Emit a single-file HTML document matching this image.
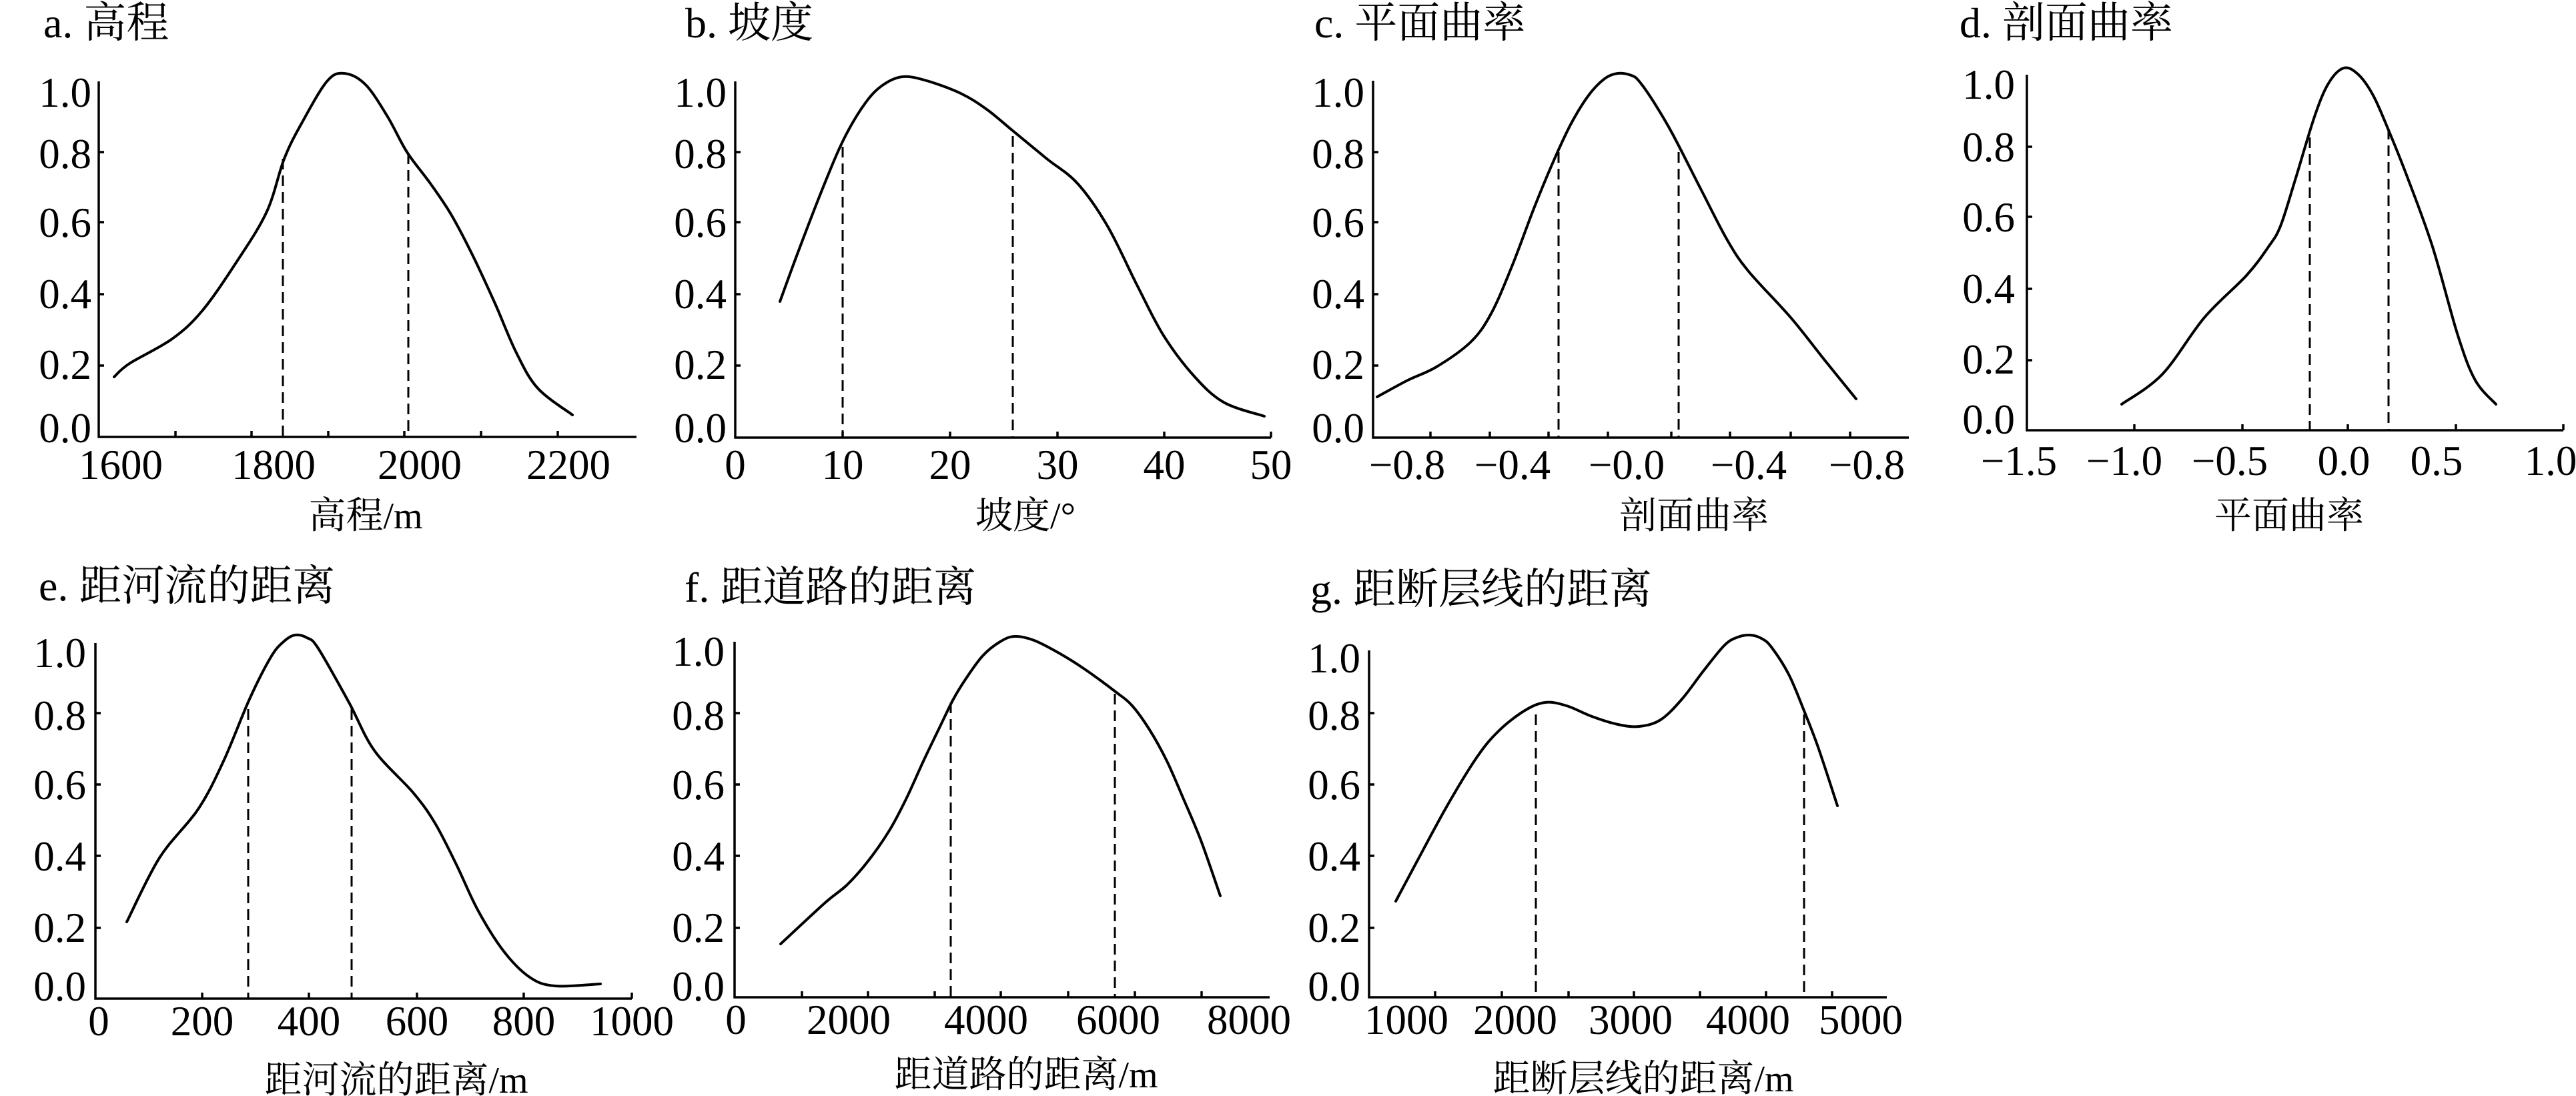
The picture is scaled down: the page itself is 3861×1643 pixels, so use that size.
<!DOCTYPE html>
<html><head><meta charset="utf-8"><style>
html,body{margin:0;padding:0;background:#fff;}
svg{display:block;}
text{font-family:"Liberation Serif","Noto Serif CJK SC",serif;fill:#000;}
.t{font-size:64px;}
.x{font-size:56px;}
.n{font-size:63px;}
.c{fill:none;stroke:#000;stroke-width:4;stroke-linejoin:round;stroke-linecap:round;}
.a{fill:none;stroke:#000;stroke-width:3.5;}
.d{fill:none;stroke:#000;stroke-width:3;stroke-dasharray:16,9;}
</style></head><body>
<svg id="s" width="3861" height="1643" viewBox="0 0 3861 1643" xmlns="http://www.w3.org/2000/svg">
<!-- a -->
<text class="t" x="65" y="56">a. 高程</text>
<path class="a" d="M148,122 V655 H954"/>
<path class="a" d="M148,228h8M148,333h8M148,441h8M148,548h8M263,655v-9M377,655v-9M492,655v-9M606,655v-9M721,655v-9M836,655v-9"/>
<g class="n" text-anchor="end"><text x="137" y="160">1.0</text><text x="137" y="252">0.8</text><text x="137" y="355">0.6</text><text x="137" y="462">0.4</text><text x="137" y="568">0.2</text><text x="137" y="663">0.0</text></g>
<g class="n" text-anchor="middle"><text x="181" y="718">1600</text><text x="410" y="718">1800</text><text x="629" y="718">2000</text><text x="852" y="718">2200</text></g>
<text class="x" x="548" y="792" text-anchor="middle">高程/m</text>
<polyline class="c" points="171,565 194,545 258,508 303,466 355,392 400,317 426,238 452,185 490,122 516,110 548,127 581,175 610,228 645,275 677,323 710,386 742,455 774,529 806,582 858,622"/>
<path class="d" d="M424,238V655M612,230V655"/>
<!-- b -->
<text class="t" x="1027" y="56">b. 坡度</text>
<path class="a" d="M1102,122 V656 H1905"/>
<path class="a" d="M1102,228h8M1102,333h8M1102,441h8M1102,548h8M1263,656v-9M1424,656v-9M1585,656v-9M1745,656v-9M1905,656v-9"/>
<g class="n" text-anchor="end"><text x="1089" y="160">1.0</text><text x="1089" y="252">0.8</text><text x="1089" y="355">0.6</text><text x="1089" y="462">0.4</text><text x="1089" y="568">0.2</text><text x="1089" y="663">0.0</text></g>
<g class="n" text-anchor="middle"><text x="1102" y="718">0</text><text x="1263" y="718">10</text><text x="1424" y="718">20</text><text x="1585" y="718">30</text><text x="1745" y="718">40</text><text x="1905" y="718">50</text></g>
<text class="x" x="1537" y="792" text-anchor="middle">坡度/°</text>
<polyline class="c" points="1169,452 1195,381 1234,280 1266,206 1298,153 1324,127 1353,115 1389,121 1440,140 1479,164 1518,196 1569,238 1615,275 1660,339 1705,429 1744,503 1789,563 1834,603 1895,624"/>
<path class="d" d="M1263,220V656M1518,204V656"/>
<!-- c -->
<text class="t" x="1970" y="56">c. 平面曲率</text>
<path class="a" d="M2058,121 V656 H2861"/>
<path class="a" d="M2058,228h8M2058,333h8M2058,441h8M2058,548h8M2144,656v-9M2233,656v-9M2321,656v-9M2410,656v-9M2505,656v-9M2593,656v-9M2684,656v-9M2773,656v-9"/>
<g class="n" text-anchor="end"><text x="2045" y="160">1.0</text><text x="2045" y="252">0.8</text><text x="2045" y="355">0.6</text><text x="2045" y="462">0.4</text><text x="2045" y="568">0.2</text><text x="2045" y="663">0.0</text></g>
<g class="n" text-anchor="middle"><text x="2109" y="718">−0.8</text><text x="2267" y="718">−0.4</text><text x="2438" y="718">−0.0</text><text x="2621" y="718">−0.4</text><text x="2798" y="718">−0.8</text></g>
<text class="x" x="2539" y="792" text-anchor="middle">剖面曲率</text>
<polyline class="c" points="2064,595 2110,570 2153,550 2204,513 2235,470 2267,397 2300,310 2330,238 2355,185 2381,143 2405,118 2425,110 2445,113 2457,122 2480,155 2507,201 2550,285 2589,360 2621,407 2684,476 2735,540 2782,598"/>
<path class="d" d="M2336,228V656M2516,228V656"/>
<!-- d -->
<text class="t" x="2937" y="56">d. 剖面曲率</text>
<path class="a" d="M3038,112 V645 H3842"/>
<path class="a" d="M3038,220h8M3038,325h8M3038,433h8M3038,540h8M3199,645v-9M3361,645v-9M3519,645v-9M3681,645v-9M3842,645v-9"/>
<g class="n" text-anchor="end"><text x="3020" y="148">1.0</text><text x="3020" y="242">0.8</text><text x="3020" y="347">0.6</text><text x="3020" y="454">0.4</text><text x="3020" y="560">0.2</text><text x="3020" y="650">0.0</text></g>
<g class="n" text-anchor="middle"><text x="3026" y="712">−1.5</text><text x="3184" y="712">−1.0</text><text x="3342" y="712">−0.5</text><text x="3513" y="712">0.0</text><text x="3652" y="712">0.5</text><text x="3823" y="712">1.0</text></g>
<text class="x" x="3431" y="792" text-anchor="middle">平面曲率</text>
<polyline class="c" points="3180,606 3241,561 3304,476 3367,413 3400,370 3418,339 3440,270 3469,175 3490,125 3513,102 3535,112 3557,143 3580,195 3608,265 3646,370 3684,503 3710,570 3741,606"/>
<path class="d" d="M3462,206V645M3580,193V645"/>
<!-- e -->
<text class="t" x="58" y="900">e. 距河流的距离</text>
<path class="a" d="M143,964 V1497 H947"/>
<path class="a" d="M143,1069h8M143,1176h8M143,1283h8M143,1391h8M303,1497v-9M463,1497v-9M625,1497v-9M785,1497v-9M947,1497v-9"/>
<g class="n" text-anchor="end"><text x="129" y="1000">1.0</text><text x="129" y="1094">0.8</text><text x="129" y="1198">0.6</text><text x="129" y="1305">0.4</text><text x="129" y="1412">0.2</text><text x="129" y="1500">0.0</text></g>
<g class="n" text-anchor="middle"><text x="148" y="1552">0</text><text x="303" y="1552">200</text><text x="463" y="1552">400</text><text x="625" y="1552">600</text><text x="785" y="1552">800</text><text x="947" y="1552">1000</text></g>
<text class="x" x="594" y="1638" text-anchor="middle">距河流的距离/m</text>
<polyline class="c" points="190,1382 239,1286 297,1213 335,1141 374,1048 406,985 425,962 442,952 460,956 477,972 523,1053 561,1125 619,1188 652,1234 684,1296 716,1364 755,1426 794,1465 832,1478 900,1475"/>
<path class="d" d="M372,1063V1497M527,1063V1497"/>
<!-- f -->
<text class="t" x="1026" y="902">f. 距道路的距离</text>
<path class="a" d="M1101,962 V1495 H1903"/>
<path class="a" d="M1101,1069h8M1101,1176h8M1101,1283h8M1101,1391h8M1202,1495v-9M1301,1495v-9M1401,1495v-9M1500,1495v-9M1601,1495v-9M1701,1495v-9M1801,1495v-9"/>
<g class="n" text-anchor="end"><text x="1086" y="998">1.0</text><text x="1086" y="1094">0.8</text><text x="1086" y="1198">0.6</text><text x="1086" y="1305">0.4</text><text x="1086" y="1412">0.2</text><text x="1086" y="1500">0.0</text></g>
<g class="n" text-anchor="middle"><text x="1103" y="1550">0</text><text x="1272" y="1550">2000</text><text x="1478" y="1550">4000</text><text x="1676" y="1550">6000</text><text x="1872" y="1550">8000</text></g>
<text class="x" x="1538" y="1630" text-anchor="middle">距道路的距离/m</text>
<polyline class="c" points="1170,1415 1237,1353 1269,1327 1301,1291 1333,1245 1358,1198 1384,1141 1409,1089 1429,1048 1448,1017 1473,983 1499,962 1521,954 1550,960 1589,980 1627,1004 1672,1037 1697,1058 1723,1094 1749,1141 1774,1198 1800,1260 1829,1343"/>
<path class="d" d="M1425,1053V1495M1671,1040V1495"/>
<!-- g -->
<text class="t" x="1964" y="905">g. 距断层线的距离</text>
<path class="a" d="M2052,975 V1495 H2828"/>
<path class="a" d="M2052,1069h8M2052,1176h8M2052,1283h8M2052,1391h8M2151,1495v-9M2251,1495v-9M2351,1495v-9M2449,1495v-9M2548,1495v-9M2647,1495v-9M2746,1495v-9"/>
<g class="n" text-anchor="end"><text x="2039" y="1008">1.0</text><text x="2039" y="1094">0.8</text><text x="2039" y="1198">0.6</text><text x="2039" y="1305">0.4</text><text x="2039" y="1412">0.2</text><text x="2039" y="1500">0.0</text></g>
<g class="n" text-anchor="middle"><text x="2108" y="1550">1000</text><text x="2271" y="1550">2000</text><text x="2444" y="1550">3000</text><text x="2620" y="1550">4000</text><text x="2789" y="1550">5000</text></g>
<text class="x" x="2463" y="1636" text-anchor="middle">距断层线的距离/m</text>
<polyline class="c" points="2092,1351 2124,1291 2169,1208 2213,1136 2245,1097 2284,1066 2316,1053 2348,1058 2386,1074 2425,1086 2457,1089 2489,1079 2521,1048 2553,1006 2585,967 2605,955 2623,952 2640,957 2655,970 2681,1011 2703,1063 2725,1120 2754,1208"/>
<path class="d" d="M2302,1071V1495M2704,1071V1495"/>
</svg>
<script>
(function(){
var ns="http://www.w3.org/2000/svg";
var pls=document.querySelectorAll("polyline.c");
for(var k=0;k<pls.length;k++){
 var pl=pls[k];
 var a=pl.getAttribute("points").trim().split(/\s+/).map(function(s){var q=s.split(",");return [+q[0],+q[1]];});
 var d="M"+a[0][0]+","+a[0][1];
 for(var i=0;i<a.length-1;i++){
  var p0=a[i-1]||a[i],p1=a[i],p2=a[i+1],p3=a[i+2]||a[i+1];
  var c1x=p1[0]+(p2[0]-p0[0])/6,c1y=p1[1]+(p2[1]-p0[1])/6;
  var c2x=p2[0]-(p3[0]-p1[0])/6,c2y=p2[1]-(p3[1]-p1[1])/6;
  d+=" C"+c1x.toFixed(1)+","+c1y.toFixed(1)+" "+c2x.toFixed(1)+","+c2y.toFixed(1)+" "+p2[0]+","+p2[1];
 }
 var p=document.createElementNS(ns,"path");
 p.setAttribute("class","c");p.setAttribute("d",d);
 pl.parentNode.replaceChild(p,pl);
}
})();
</script>
</body></html>
